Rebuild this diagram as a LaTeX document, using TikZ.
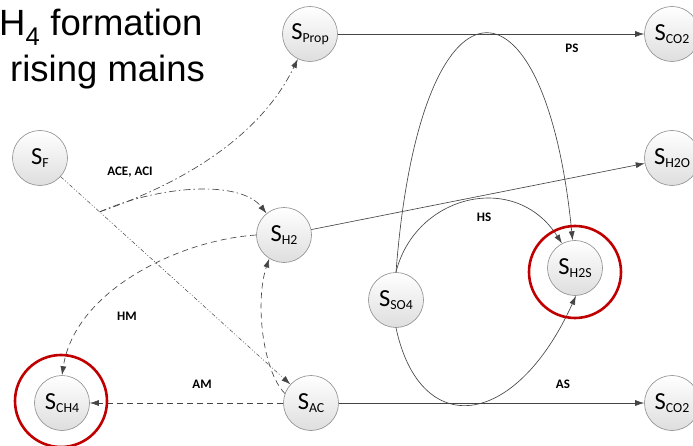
\documentclass[tikz,border=0pt]{standalone}
\usepackage{fontspec}
\setmainfont{Carlito}
\newfontfamily\titlefont{Liberation Sans}
\usetikzlibrary{arrows.meta,calc}

\definecolor{edgecol}{HTML}{454545}
\definecolor{redring}{HTML}{C00000}

\tikzset{
 state/.style={circle, minimum size=55pt, inner sep=0pt, draw=black!45, line width=0.6pt, top color=white, bottom color=black!13},
 conn/.style={draw=edgecol, line width=0.65pt, -{Latex[length=9pt,width=6pt]}},
 dashedconn/.style={conn, dash pattern=on 6pt off 4pt},
 dashdotconn/.style={conn, dash pattern=on 7pt off 3pt on 1.5pt off 3pt},
 thinconn/.style={conn, line width=0.5pt, dash pattern=on 4pt off 2pt on 1pt off 2pt on 1pt off 2pt},
 elabel/.style={font=\fontsize{13}{13}\selectfont\bfseries, inner sep=0pt},
 ring/.style={draw=redring, line width=2.6pt, circle, minimum size=92pt, inner sep=0pt},
 titletext/.style={anchor=base west, inner sep=0pt, font=\titlefont\fontsize{36.5}{36.5}\selectfont}
}
\newcommand{\Slab}[1]{{\fontsize{24.5}{24.5}\selectfont S}\raisebox{-3.5pt}{\fontsize{13.8}{13.8}\selectfont #1}}

\begin{document}
\begin{tikzpicture}[x=1pt,y=-1pt]
\useasboundingbox (0,0) rectangle (693,446);

% title
\node[titletext] (t1) at (-1,36) {H\textsubscript{4} formation};
\node[titletext] (t2) at (10,82) {rising mains};

% nodes
\node[state] (sf)   at (40,158)  {\Slab{F}};
\node[state] (sprop) at (310,34) {\Slab{Prop}};
\node[state] (co2a) at (672,34)  {\Slab{CO2}};
\node[state] (h2o)  at (672,158) {\Slab{H2O}};
\node[state] (sh2)  at (284,235) {\Slab{H2}};
\node[state] (sso4) at (396,300) {\Slab{SO4}};
\node[state] (sh2s) at (575,268) {\Slab{H2S}};
\node[state] (ch4)  at (62,403)  {\Slab{CH4}};
\node[state] (sac)  at (311,403) {\Slab{AC}};
\node[state] (co2b) at (672,403) {\Slab{CO2}};

% connectors
\draw[conn] (sprop) -- (co2a);
\draw[conn] (sh2) -- (h2o);
\draw[conn] (sac) -- (co2b);
\draw[thinconn] (sf) -- (sac);
\coordinate (br) at ($(sf)!0.22!(sac)$);
\draw[dashdotconn] (br) .. controls (200,177) and (265,127) .. (sprop.244);
\draw[dashdotconn] (br) .. controls (160,185) and (240,180) .. (sh2.129);
\draw[dashedconn] (sh2.west) .. controls (180,240) and (75,290) .. (ch4.north);
\draw[dashedconn] (sac) -- (ch4);
\draw[dashedconn] (sac.160) .. controls (262,370) and (255,300) .. (sh2.238);
\draw[conn] (sso4.north) .. controls (420,-40) and (545,-40) .. (sh2s.95);
\draw[conn] (sso4.north) .. controls (415,195) and (515,170) .. (sh2s.118);
\draw[conn] (sso4.south) .. controls (420,440) and (515,430) .. (sh2s.-88);

% labels
\node[elabel] (lace) at (130,172) {ACE, ACI};
\node[elabel] (lps)  at (572,48)  {PS};
\node[elabel] (lhs)  at (484,217) {HS};
\node[elabel] (lhm)  at (127,316) {HM};
\node[elabel] (lam)  at (202,384) {AM};
\node[elabel] (las)  at (563,384) {AS};

% red rings
\node[ring] (r1) at (575,272) {};
\node[ring] (r2) at (61,401) {};
\end{tikzpicture}
\end{document}
